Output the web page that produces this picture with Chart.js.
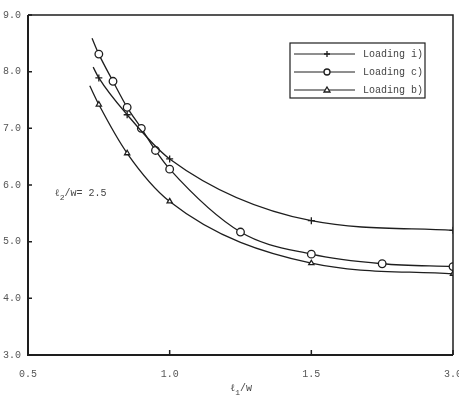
<!DOCTYPE html>
<html>
<head>
<meta charset="utf-8">
<script src="https://cdn.jsdelivr.net/npm/chart.js@4.4.0/dist/chart.umd.min.js"></script>
<style>
  html, body { margin: 0; padding: 0; background: #fff; overflow: hidden; }
  #wrap { width: 462px; height: 418px; }
</style>
</head>
<body>
<div id="wrap"><canvas id="myChart"></canvas></div>
<script>
// x ticks sit at equal spacing on the original plot even though the values don't
const xTickValues = [0.5, 1.0, 1.5, 3.0];
const yMin = 3;
const yMax = 9;

// l1/w values; the first entry of each series is where the drawn curve starts (no marker there)
const loadingIx = [0.73, 0.75, 0.85, 1.0, 1.5, 3.0];
const loadingIy = [8.08, 7.89, 7.24, 6.46, 5.37, 5.20];
const loadingCx = [0.726, 0.75, 0.8, 0.85, 0.9, 0.95, 1.0, 1.25, 1.5, 2.25, 3.0];
const loadingCy = [8.59, 8.31, 7.83, 7.37, 7.0, 6.61, 6.28, 5.17, 4.78, 4.61, 4.56];
const loadingBx = [0.718, 0.75, 0.85, 1.0, 1.5, 3.0];
const loadingBy = [7.75, 7.42, 6.56, 5.71, 4.62, 4.43];

const seriesNames = ['Loading i)', 'Loading c)', 'Loading b)'];

// piecewise map of l1/w onto the evenly spaced axis
function toAxis(v) {
  for (let i = 0; i < xTickValues.length - 1; i++) {
    const a = xTickValues[i], b = xTickValues[i + 1];
    if (v <= b || i === xTickValues.length - 2) return i + (v - a) / (b - a);
  }
}

const ink = '#1e1e1e';
const labelColor = '#555';
const mono = '"Liberation Mono", "DejaVu Sans Mono", monospace';

function makeSet(label, xs, ys, style, radius) {
  return {
    label: label,
    data: xs.map((v, i) => ({ x: toAxis(v), y: ys[i] })),
    borderColor: ink,
    borderWidth: 1.3,
    backgroundColor: '#fff',
    pointBorderColor: ink,
    pointBorderWidth: 1.3,
    pointStyle: style,
    pointRadius: xs.map((v, i) => (i === 0 ? 0 : radius)),
    cubicInterpolationMode: 'monotone',
    fill: false
  };
}

function drawMarker(ctx, style, x, y) {
  ctx.beginPath();
  if (style === 'cross') {
    ctx.moveTo(x - 3, y); ctx.lineTo(x + 3, y);
    ctx.moveTo(x, y - 3); ctx.lineTo(x, y + 3);
    ctx.stroke();
  } else if (style === 'circle') {
    ctx.arc(x, y, 3, 0, Math.PI * 2);
    ctx.fillStyle = '#fff';
    ctx.fill();
    ctx.stroke();
  } else {
    ctx.moveTo(x, y - 3); ctx.lineTo(x + 3, y + 2); ctx.lineTo(x - 3, y + 2);
    ctx.closePath();
    ctx.fillStyle = '#fff';
    ctx.fill();
    ctx.stroke();
  }
}

const framePlugin = {
  id: 'frame',
  afterDraw(chart) {
    const { ctx, chartArea: a, scales } = chart;
    ctx.save();
    ctx.strokeStyle = ink;

    // box round the plot: heavy left/bottom, lighter top/right
    ctx.lineWidth = 2;
    ctx.beginPath();
    ctx.moveTo(a.left, a.top); ctx.lineTo(a.left, a.bottom); ctx.lineTo(a.right, a.bottom);
    ctx.stroke();
    ctx.lineWidth = 1.5;
    ctx.beginPath();
    ctx.moveTo(a.left, a.top); ctx.lineTo(a.right, a.top); ctx.lineTo(a.right, a.bottom);
    ctx.stroke();

    // inward tick marks
    ctx.lineWidth = 1.5;
    ctx.beginPath();
    scales.y.ticks.forEach(t => {
      const y = scales.y.getPixelForValue(t.value);
      ctx.moveTo(a.left, y); ctx.lineTo(a.left + 4, y);
    });
    scales.x.ticks.forEach(t => {
      const x = scales.x.getPixelForValue(t.value);
      ctx.moveTo(x, a.bottom); ctx.lineTo(x, a.bottom - 5);
    });
    ctx.stroke();

    // legend box
    const bx = a.right - 163, by = a.top + 28, bw = 135, bh = 55;
    ctx.lineWidth = 1.2;
    ctx.strokeRect(bx, by, bw, bh);
    ctx.font = '10px ' + mono;
    ctx.textBaseline = 'middle';
    chart.data.datasets.forEach((ds, i) => {
      const y = by + 11 + i * 18;
      ctx.strokeStyle = ink;
      ctx.lineWidth = 1;
      ctx.beginPath();
      ctx.moveTo(bx + 4, y); ctx.lineTo(bx + 65, y);
      ctx.stroke();
      ctx.lineWidth = 1.3;
      drawMarker(ctx, ds.pointStyle, bx + 37, y);
      ctx.fillStyle = '#444';
      ctx.fillText(ds.label, bx + 73, y);
    });

    // parameter note and x-axis title with subscripts
    ctx.fillStyle = '#444';
    ctx.textBaseline = 'alphabetic';
    const drawSub = (x, y, pre, sub, post) => {
      ctx.font = '10px "DejaVu Serif", serif';
      ctx.fillText(pre, x, y);
      let w = ctx.measureText(pre).width;
      ctx.font = '8px ' + mono;
      ctx.fillText(sub, x + w, y + 4);
      w += ctx.measureText(sub).width;
      ctx.font = '10px ' + mono;
      ctx.fillText(post, x + w, y);
    };
    drawSub(a.left + 27, a.top + 181, 'ℓ', '2', '/w= 2.5');
    drawSub((a.left + a.right) / 2 - 10, a.bottom + 36, 'ℓ', '1', '/w');
    ctx.restore();
  }
};

new Chart(document.getElementById('myChart'), {
  type: 'line',
  data: {
    datasets: [
      makeSet(seriesNames[0], loadingIx, loadingIy, 'cross', 3.5),
      makeSet(seriesNames[1], loadingCx, loadingCy, 'circle', 3.8),
      makeSet(seriesNames[2], loadingBx, loadingBy, 'triangle', 3)
    ]
  },
  options: {
    responsive: true,
    maintainAspectRatio: false,
    animation: false,
    layout: { padding: { left: 3, top: 15, right: 0, bottom: 37 } },
    plugins: { legend: { display: false }, tooltip: { enabled: false } },
    scales: {
      x: {
        type: 'linear',
        min: 0,
        max: xTickValues.length - 1,
        afterBuildTicks: s => { s.ticks = xTickValues.map((v, i) => ({ value: i })); },
        afterFit: s => { s.height = 26; s.paddingLeft = 0; s.paddingRight = 9; },
        ticks: {
          callback: (v, i) => xTickValues[i].toFixed(1),
          color: labelColor,
          font: { family: mono, size: 10 },
          padding: 13,
          maxRotation: 0
        },
        grid: { display: false, drawTicks: false },
        border: { display: false }
      },
      y: {
        min: yMin,
        max: yMax,
        afterFit: s => { s.width = 25; s.paddingTop = 0; s.paddingBottom = 0; },
        ticks: {
          stepSize: 1,
          callback: v => v.toFixed(1),
          color: labelColor,
          font: { family: mono, size: 10 },
          padding: 7
        },
        grid: { display: false, drawTicks: false },
        border: { display: false }
      }
    }
  },
  plugins: [framePlugin]
});
</script>
</body>
</html>
